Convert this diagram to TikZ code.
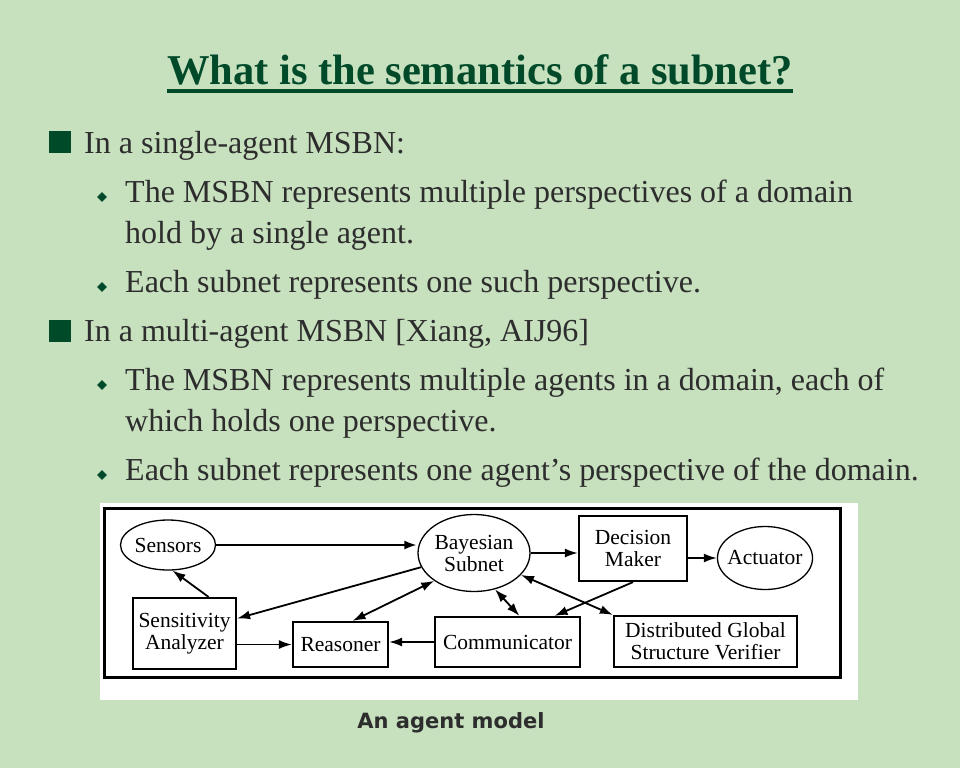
\documentclass[tikz,border=0pt]{standalone}
\usepackage{fontspec}
\setmainfont{Liberation Serif}
\newfontfamily\capfont{DejaVu Sans}
\usepackage{tikz}
\usetikzlibrary{shapes.geometric}
\usetikzlibrary{arrows.meta}
\definecolor{slidegreen}{RGB}{199,224,190}
\definecolor{titlegreen}{RGB}{0,74,42}
\definecolor{bodygray}{RGB}{45,45,45}

\begin{document}
\begin{tikzpicture}
    [
    x=1pt,y=-1pt,
    textline/.style={anchor=base west,inner sep=0pt,text=bodygray,font=\fontsize{32}{38}\selectfont},
    boxbullet/.style={rectangle,fill=titlegreen,inner sep=0pt,minimum size=22pt},
    dotbullet/.style={diamond,fill=titlegreen,inner sep=0pt,minimum size=10pt},
    unitbox/.style={rectangle,draw,line width=2.2pt,fill=white,align=center,inner sep=0pt,font=\fontsize{21.5}{22}\selectfont},
    unitoval/.style={ellipse,draw,line width=1.3pt,fill=white,align=center,inner sep=0pt,font=\fontsize{21.5}{22}\selectfont},
    flow/.style={-{Latex[length=13pt,width=9pt]},line width=1.8pt},
    twoway/.style={{Latex[length=13pt,width=9pt]}-{Latex[length=13pt,width=9pt]},line width=1.8pt},
    ]
    \fill [slidegreen] (0,0) rectangle (960,768);
    \useasboundingbox (0,0) rectangle (960,768);

    \node (title) at (480,84) [anchor=base,inner sep=0pt,text=titlegreen,font=\fontsize{42.5}{50}\selectfont\bfseries] {What is the semantics of a subnet?};
    \draw [titlegreen,line width=4pt] ([yshift=-7pt]title.base west) -- ([yshift=-7pt]title.base east);

    \node (sq1) at (59.5,141.5) [boxbullet] {};
    \node (l1) at (84,153) [textline] {In a single-agent MSBN:};
    \node (dm1) at (102,197) [dotbullet] {};
    \node (l2) at (125,202) [textline] {The MSBN represents multiple perspectives of a domain};
    \node (l3) at (125,243) [textline] {hold by a single agent.};
    \node (dm2) at (102,287) [dotbullet] {};
    \node (l4) at (125,292) [textline] {Each subnet represents one such perspective.};
    \node (sq2) at (59.5,330.5) [boxbullet] {};
    \node (l5) at (84,341) [textline] {In a multi-agent MSBN [Xiang, AIJ96]};
    \node (dm3) at (102,385) [dotbullet] {};
    \node (l6) at (125,390) [textline] {The MSBN represents multiple agents in a domain, each of};
    \node (l7) at (125,431) [textline] {which holds one perspective.};
    \node (dm4) at (102,475) [dotbullet] {};
    \node (l8) at (125,480) [textline] {Each subnet represents one agent's perspective of the domain.};

    \fill [white] (100,503) rectangle (858,700);
    \draw [line width=3pt] (104,508) rectangle (840,677);

    \node (sensors) at (168,545) [unitoval,minimum width=95pt,minimum height=50pt] {Sensors};
    \node (bayes) at (474,553) [unitoval,minimum width=112pt,minimum height=77pt] {Bayesian\\Subnet};
    \node (decision) at (633,548.5) [unitbox,minimum width=108pt,minimum height=65pt] {Decision\\Maker};
    \node (actuator) at (765,558) [unitoval,inner xsep=-4pt,minimum width=94pt,minimum height=63pt] {Actuator};
    \node (sensit) at (184.5,633.5) [unitbox,minimum width=103pt,minimum height=71pt] {Sensitivity\\Analyzer};
    \node (reasoner) at (340.5,644.5) [unitbox,minimum width=95pt,minimum height=45pt] {Reasoner};
    \node (comm) at (507.5,642) [unitbox,minimum width=145pt,minimum height=50pt] {Communicator};
    \node (verifier) at (705.5,641.5) [unitbox,minimum width=183pt,minimum height=51pt] {Distributed Global\\Structure Verifier};

    \draw [flow,line width=2.6pt] (sensors.east) to (bayes.west |- sensors.east);
    \draw [flow] (bayes.east) to (decision.west |- bayes.east);
    \draw [flow] (decision.east |- actuator.west) to (actuator.west);
    \draw [flow] ([xshift=24pt]sensit.north) to (sensors.280);
    \draw [flow] (bayes.195) to ([yshift=15pt]sensit.east);
    \draw [twoway] ([xshift=12pt]reasoner.north) to (bayes.215);
    \draw [twoway] (bayes.300) to ([xshift=12pt]comm.north);
    \draw [flow] (decision.south) to ([xshift=47pt]comm.north);
    \draw [twoway] (bayes.335) to (verifier.north west);
    \draw [flow] (comm.west) to (reasoner.east |- comm.west);
    \draw [flow] (sensit.east |- reasoner.west) to (reasoner.west);

    \node (caption) at (451,728) [anchor=base,inner sep=0pt,text=bodygray,font=\capfont\bfseries\fontsize{21}{25}\selectfont] {An agent model};
\end{tikzpicture}
\end{document}
